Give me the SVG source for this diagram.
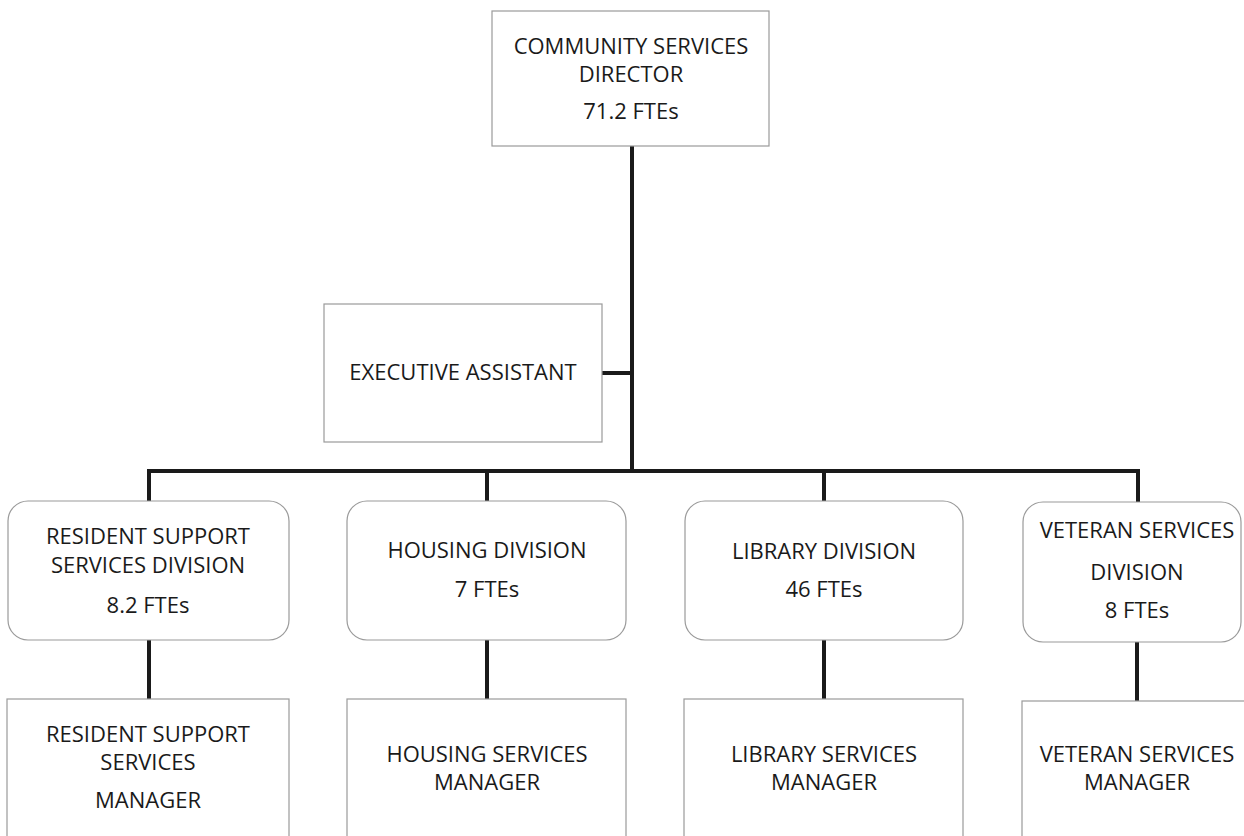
<svg xmlns="http://www.w3.org/2000/svg" width="1244" height="836" viewBox="0 0 1244 836">
<style>
  .box { fill: #ffffff; stroke: #9a9a9a; stroke-width: 1.2; }
  .t { font-family: "Open Sans", "Liberation Sans", sans-serif; font-size: 22px; fill: #1a1a1a; text-anchor: middle; }
  .conn { fill: none; stroke: #1a1a1a; stroke-width: 4; stroke-linejoin: miter; }
</style>
<rect width="1244" height="836" fill="#ffffff"/>
<g id="connectors">
  <path class="conn" d="M632,146 V471"/>
  <path class="conn" d="M602,373 H632"/>
  <path class="conn" d="M149,501 V471 H1138 V502"/>
  <path class="conn" d="M487,471 V501"/>
  <path class="conn" d="M824,471 V501"/>
  <path class="conn" d="M149,640 V699"/>
  <path class="conn" d="M487,640 V699"/>
  <path class="conn" d="M824,640 V699"/>
  <path class="conn" d="M1137,642 V701"/>
</g>
<g id="director">
  <rect class="box" x="492" y="11" width="277" height="135"/>
  <text class="t" x="631" y="54">COMMUNITY SERVICES</text>
  <text class="t" x="631" y="82">DIRECTOR</text>
  <text class="t" x="631" y="119">71.2 FTEs</text>
</g>
<g id="exec-assistant">
  <rect class="box" x="324" y="304" width="278" height="138"/>
  <text class="t" x="463" y="380">EXECUTIVE ASSISTANT</text>
</g>
<g id="resident-division">
  <rect class="box" x="8" y="501" width="281" height="139" rx="20" ry="20"/>
  <text class="t" x="148" y="544">RESIDENT SUPPORT</text>
  <text class="t" x="148" y="573">SERVICES DIVISION</text>
  <text class="t" x="148" y="613">8.2 FTEs</text>
</g>
<g id="housing-division">
  <rect class="box" x="347" y="501" width="279" height="139" rx="20" ry="20"/>
  <text class="t" x="487" y="558">HOUSING DIVISION</text>
  <text class="t" x="487" y="597">7 FTEs</text>
</g>
<g id="library-division">
  <rect class="box" x="685" y="501" width="278" height="139" rx="20" ry="20"/>
  <text class="t" x="824" y="559">LIBRARY DIVISION</text>
  <text class="t" x="824" y="597">46 FTEs</text>
</g>
<g id="veteran-division">
  <rect class="box" x="1023" y="502" width="218" height="140" rx="20" ry="20"/>
  <text class="t" x="1137" y="538">VETERAN SERVICES</text>
  <text class="t" x="1137" y="580">DIVISION</text>
  <text class="t" x="1137" y="618">8 FTEs</text>
</g>
<g id="resident-manager">
  <rect class="box" x="7" y="699" width="282" height="160"/>
  <text class="t" x="148" y="742">RESIDENT SUPPORT</text>
  <text class="t" x="148" y="770">SERVICES</text>
  <text class="t" x="148" y="808">MANAGER</text>
</g>
<g id="housing-manager">
  <rect class="box" x="347" y="699" width="279" height="160"/>
  <text class="t" x="487" y="762">HOUSING SERVICES</text>
  <text class="t" x="487" y="790">MANAGER</text>
</g>
<g id="library-manager">
  <rect class="box" x="684" y="699" width="279" height="160"/>
  <text class="t" x="824" y="762">LIBRARY SERVICES</text>
  <text class="t" x="824" y="790">MANAGER</text>
</g>
<g id="veteran-manager">
  <rect class="box" x="1022" y="701" width="240" height="160"/>
  <text class="t" x="1137" y="762">VETERAN SERVICES</text>
  <text class="t" x="1137" y="790">MANAGER</text>
</g>
</svg>
